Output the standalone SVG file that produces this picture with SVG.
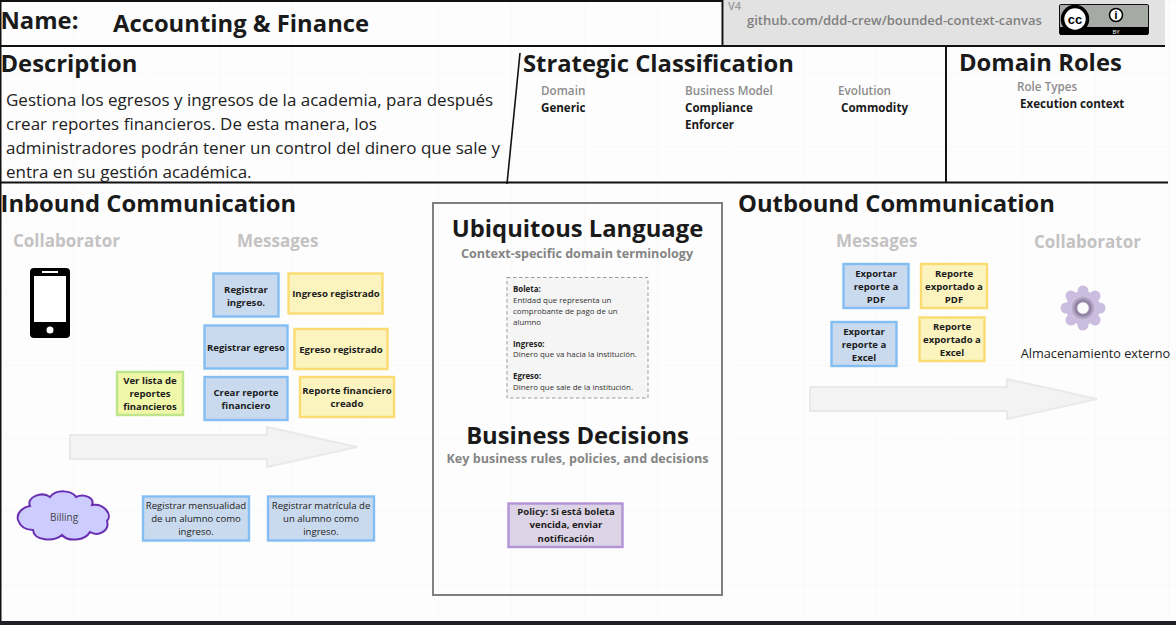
<svg xmlns="http://www.w3.org/2000/svg" width="1176" height="625" viewBox="0 0 1176 625">
<style>
text{font-family:"Open Sans","Noto Sans","DejaVu Sans",sans-serif;fill:#1a1a1a}
.h{font-size:23.8px;font-weight:700}
.body{font-size:17px;font-weight:400;fill:#222}
.sec{font-size:17px;font-weight:700;fill:#c4c2c2}
.lab{font-size:11.7px;font-weight:600;fill:#8c8c8c}
.val{font-size:11.6px;font-weight:700;fill:#1a1a1a}
.line{stroke:#111;stroke-width:2;fill:none}
.note{stroke-width:2.4}
.blue{fill:#c9daee;stroke:#84bdf2}
.yellow{fill:#fbf4bf;stroke:#fbdc72}
.green{fill:#f1f7a8;stroke:#bfe58c}
.purple{fill:#ddd3e6;stroke:#b293d6}
.nt{font-size:9.6px;font-weight:700;text-anchor:middle;fill:#1c1c1c}
.nr{font-size:9.6px;font-weight:400;text-anchor:middle;fill:#222}
.arrow{fill:#f3f3f3;stroke:#e9e9e9;stroke-width:2}
.ul{font-size:7.9px;fill:#333}
.ub{font-size:7.9px;font-weight:700;fill:#222}
.big{font-size:23.8px;font-weight:700;text-anchor:middle}
.sub{font-size:12.6px;font-weight:700;fill:#858585;text-anchor:middle}
</style>
<defs>
<pattern id="grid" width="73" height="73" patternUnits="userSpaceOnUse"><path d="M73 0H0V73" fill="none" stroke="#f6f6f6" stroke-width="1"/></pattern>
<radialGradient id="gearRing"><stop offset="0.35" stop-color="#f4f0f8"/><stop offset="0.55" stop-color="#8a7a9c"/><stop offset="1" stop-color="#d2c6e2"/></radialGradient>
</defs>
<rect width="1176" height="625" fill="#fdfdfd"/>
<rect width="1176" height="625" fill="url(#grid)"/>
<rect x="724" y="0" width="441" height="45" fill="#e2e2e2"/>
<rect x="0" y="621" width="1176" height="4" fill="#1e2126"/>
<g id="frame">
<path class="line" d="M0 1H722M0 46H1165M0 182.500H1168M722.500 0V46M946 46V182M0.500 0V621"/>
<path d="M520 53L507 184" stroke="#111" stroke-width="1.600" fill="none"/>
</g>
<g id="header">
<text x="0.500" y="29" class="h">Name:</text>
<text x="113" y="32" class="h">Accounting &amp; Finance</text>
<text x="728" y="10" style="font-size:11px;font-weight:600;fill:#9a9a9a">V4</text>
<text x="747" y="25" style="font-size:13px;font-weight:600;fill:#808080">github.com/ddd-crew/bounded-context-canvas</text>
</g>
<g id="cc-badge">
<rect x="1059.500" y="4.500" width="89" height="30" rx="1.500" fill="#a6aaa4" stroke="#111"/>
<rect x="1060" y="27" width="88" height="8" fill="#000"/>
<circle cx="1075" cy="19" r="12.500" fill="#fff" stroke="#000" stroke-width="3.500"/>
<text x="1075" y="23.500" text-anchor="middle" style="font-size:13px;font-weight:700;fill:#000;font-family:'Liberation Sans',sans-serif">cc</text>
<circle cx="1116" cy="15" r="6.500" fill="#fff" stroke="#000" stroke-width="1.500"/>
<text x="1116" y="19" text-anchor="middle" style="font-size:11px;font-weight:700;fill:#000">i</text>
<text x="1116" y="34" text-anchor="middle" style="font-size:6px;fill:#fff">BY</text>
</g>
<g id="description">
<text x="0.500" y="72" class="h">Description</text>
<text x="6" y="106" class="body">Gestiona los egresos y ingresos de la academia, para después</text>
<text x="6" y="130" class="body">crear reportes financieros. De esta manera, los</text>
<text x="6" y="154" class="body">administradores podrán tener un control del dinero que sale y</text>
<text x="6" y="178" class="body">entra en su gestión académica.</text>
</g>
<g id="strategic-classification">
<text x="523" y="72" class="h">Strategic Classification</text>
<text x="541" y="95" class="lab">Domain</text>
<text x="541" y="112" class="val">Generic</text>
<text x="685" y="95" class="lab">Business Model</text>
<text x="685" y="112" class="val">Compliance</text>
<text x="685" y="129" class="val">Enforcer</text>
<text x="838" y="95" class="lab">Evolution</text>
<text x="841" y="112" class="val">Commodity</text>
</g>
<g id="domain-roles">
<text x="959" y="71" class="h">Domain Roles</text>
<text x="1017" y="91" class="lab">Role Types</text>
<text x="1020" y="108" class="val">Execution context</text>
</g>
<g id="inbound">
<text x="0.500" y="212" class="h">Inbound Communication</text>
<text x="13" y="247" class="sec">Collaborator</text>
<text x="237" y="247" class="sec">Messages</text>
</g>
<g id="phone">
<rect x="30" y="268" width="40" height="70" rx="4" fill="#000"/>
<rect x="34" y="276" width="32" height="46" fill="#fff"/>
<rect x="42" y="271" width="16" height="2" fill="#fff"/>
<circle cx="50" cy="330" r="3.500" fill="#fff"/>
</g>
<g id="billing">
<path d="M30 506C26 497 42 491 50 497C56 489 72 490 76 497C84 493 95 498 92 505C104 503 113 515 107 521C110 531 98 537 90 532C85 541 68 542 62 535C54 542 34 541 33 530C24 530 20 526 18 520C16 513 23 507 30 506Z" fill="#ccccff" stroke="#6a2fb0" stroke-width="2"/>
<text x="64" y="521" text-anchor="middle" style="font-size:10px;fill:#444">Billing</text>
</g>
<g id="n-registrar-ingreso"><rect class="note blue" x="213.500" y="273.500" width="65" height="43"/><text class="nt" x="246" y="293">Registrar</text><text class="nt" x="246" y="306">ingreso.</text></g>
<g id="n-ingreso-registrado"><rect class="note yellow" x="288.500" y="273.500" width="94" height="40"/><text class="nt" x="336" y="297">Ingreso registrado</text></g>
<g id="n-registrar-egreso"><rect class="note blue" x="204.500" y="325.500" width="83" height="43"/><text class="nt" x="246" y="351">Registrar egreso</text></g>
<g id="n-egreso-registrado"><rect class="note yellow" x="294.500" y="329" width="93" height="40"/><text class="nt" x="341" y="353">Egreso registrado</text></g>
<g id="n-crear-reporte"><rect class="note blue" x="204.500" y="377" width="83" height="43"/><text class="nt" x="246" y="396">Crear reporte</text><text class="nt" x="246" y="409">financiero</text></g>
<g id="n-reporte-creado"><rect class="note yellow" x="300" y="377" width="94" height="40"/><text class="nt" x="347" y="394">Reporte financiero</text><text class="nt" x="347" y="407">creado</text></g>
<g id="n-ver-lista"><rect class="note green" x="117" y="372" width="66" height="43"/><text class="nt" x="150" y="384">Ver lista de</text><text class="nt" x="150" y="397">reportes</text><text class="nt" x="150" y="410">financieros</text></g>
<g id="n-mensualidad"><rect class="note blue" x="143" y="496.500" width="106" height="44"/><text class="nr" x="196" y="509">Registrar mensualidad</text><text class="nr" x="196" y="522">de un alumno como</text><text class="nr" x="196" y="535">ingreso.</text></g>
<g id="n-matricula"><rect class="note blue" x="268" y="496.500" width="106" height="44"/><text class="nr" x="321" y="509">Registrar matrícula de</text><text class="nr" x="321" y="522">un alumno como</text><text class="nr" x="321" y="535">ingreso.</text></g>
<g id="connectors">
<path class="arrow" d="M70 435H267V427L357 447L267 467V459H70Z"/>
<path class="arrow" d="M810 387H1007V379L1097 399L1007 419V411H810Z"/>
</g>
<g id="center">
<rect x="433" y="203" width="289" height="392" fill="none" stroke="#808080" stroke-width="2"/>
<text class="big" x="577.500" y="237">Ubiquitous Language</text>
<text class="sub" x="577" y="258">Context-specific domain terminology</text>
<rect x="507" y="277.500" width="141" height="120.500" fill="#f5f5f5" stroke="#9b9b9b" stroke-dasharray="3.500 2.500"/>
<text class="ub" x="513" y="292">Boleta:</text>
<text class="ul" x="513" y="303">Entidad que representa un</text>
<text class="ul" x="513" y="314">comprobante de pago de un</text>
<text class="ul" x="513" y="325">alumno</text>
<text class="ub" x="513" y="347">Ingreso:</text>
<text class="ul" x="513" y="357">Dinero que va hacia la institución.</text>
<text class="ub" x="513" y="379">Egreso:</text>
<text class="ul" x="513" y="390">Dinero que sale de la institución.</text>
<text class="big" x="577.500" y="444">Business Decisions</text>
<text class="sub" x="577.500" y="463">Key business rules, policies, and decisions</text>
</g>
<g id="n-policy"><rect class="note purple" x="508.500" y="503.500" width="114" height="43.500"/><text class="nt" x="566" y="515">Policy: Si está boleta</text><text class="nt" x="566" y="528">vencida, enviar</text><text class="nt" x="566" y="542">notificación</text></g>
<g id="outbound">
<text x="738" y="212" class="h">Outbound Communication</text>
<text x="836" y="247" class="sec">Messages</text>
<text x="1034" y="248" class="sec">Collaborator</text>
</g>
<g id="n-exportar-pdf"><rect class="note blue" x="843.500" y="264" width="65" height="44"/><text class="nt" x="876" y="277">Exportar</text><text class="nt" x="876" y="290">reporte a</text><text class="nt" x="876" y="303">PDF</text></g>
<g id="n-exportado-pdf"><rect class="note yellow" x="921" y="264" width="66" height="44"/><text class="nt" x="954" y="277">Reporte</text><text class="nt" x="954" y="290">exportado a</text><text class="nt" x="954" y="303">PDF</text></g>
<g id="n-exportar-excel"><rect class="note blue" x="831.500" y="322" width="65" height="44"/><text class="nt" x="864" y="335">Exportar</text><text class="nt" x="864" y="348">reporte a</text><text class="nt" x="864" y="361">Excel</text></g>
<g id="n-exportado-excel"><rect class="note yellow" x="919.500" y="317.500" width="65" height="43.500"/><text class="nt" x="952" y="330">Reporte</text><text class="nt" x="952" y="343">exportado a</text><text class="nt" x="952" y="356">Excel</text></g>
<g id="almacenamiento">
<g fill="#cbbde0">
<circle cx="1083" cy="291" r="5.500"/><circle cx="1095" cy="296" r="5.500"/><circle cx="1100" cy="308" r="5.500"/><circle cx="1095" cy="320" r="5.500"/><circle cx="1083" cy="325" r="5.500"/><circle cx="1071" cy="320" r="5.500"/><circle cx="1066" cy="308" r="5.500"/><circle cx="1071" cy="296" r="5.500"/>
<circle cx="1083" cy="308" r="17"/>
</g>
<circle cx="1083" cy="308" r="12.500" fill="url(#gearRing)"/>
<circle cx="1083" cy="308" r="5.500" fill="#fbfbfb"/>
<text x="1095.500" y="358" text-anchor="middle" style="font-size:12.700px;fill:#222">Almacenamiento externo</text>
</g>
</svg>
